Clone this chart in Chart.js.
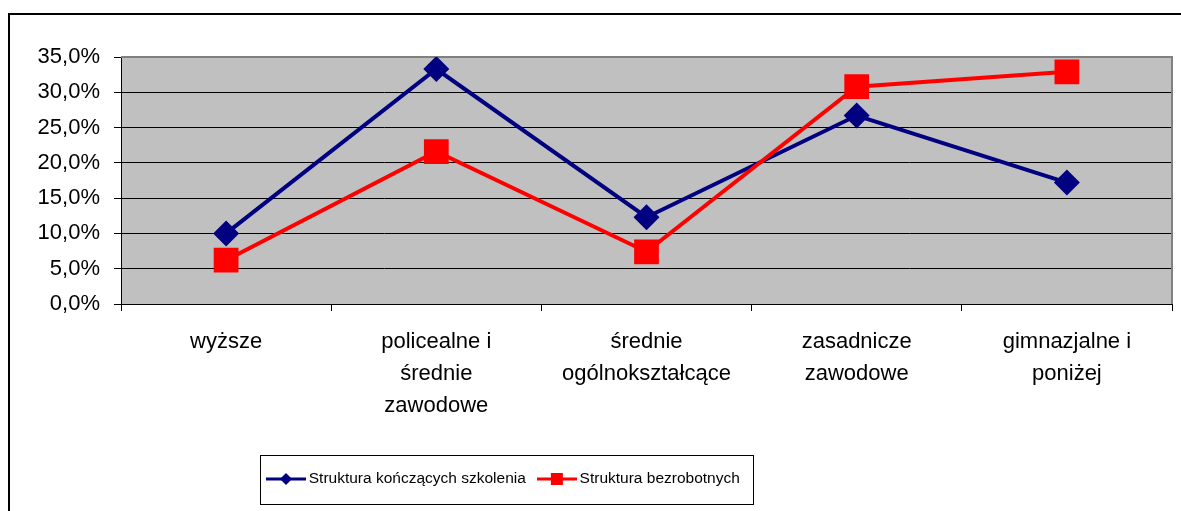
<!DOCTYPE html>
<html>
<head>
<meta charset="utf-8">
<script src="https://cdn.jsdelivr.net/npm/chart.js@4/dist/chart.umd.min.js"></script>
<style>
  html, body { margin: 0; padding: 0; background: #fff; }
  #wrap { width: 1181px; height: 511px; position: relative; }
</style>
</head>
<body>
<div id="wrap"><canvas id="eduChart"></canvas></div>
<script>
const categories = [
  ['wyższe'],
  ['policealne i', 'średnie', 'zawodowe'],
  ['średnie', 'ogólnokształcące'],
  ['zasadnicze', 'zawodowe'],
  ['gimnazjalne i', 'poniżej']
];
const seriesNames = ['Struktura kończących szkolenia', 'Struktura bezrobotnych'];
const trainees = [10.0, 33.3, 12.3, 26.7, 17.2];
const unemployed = [6.2, 21.6, 7.4, 30.8, 32.9];
const yTicks = [0, 5, 10, 15, 20, 25, 30, 35];

const NAVY = '#000080';
const RED = '#ff0000';
const PLOT_BOTTOM = 304;
const LEGEND_TEXT_Y = 479;

// small legend swatches: line with marker in the middle
function swatch(color, shape) {
  const c = document.createElement('canvas');
  c.width = 40; c.height = 14;
  const g = c.getContext('2d');
  g.strokeStyle = color; g.lineWidth = 3;
  g.beginPath(); g.moveTo(0, 7); g.lineTo(40, 7); g.stroke();
  g.fillStyle = color;
  if (shape === 'diamond') {
    g.beginPath(); g.moveTo(20, 1); g.lineTo(26, 7); g.lineTo(20, 13); g.lineTo(14, 7); g.closePath(); g.fill();
  } else {
    g.fillRect(14, 1, 12, 12);
  }
  return c;
}

const frame = {
  id: 'frame',
  beforeDraw(chart) {
    const { ctx, chartArea: a } = chart;
    ctx.save();
    ctx.fillStyle = '#c0c0c0';
    ctx.fillRect(a.left, a.top, a.right - a.left, a.bottom - a.top);
    ctx.strokeStyle = '#000';
    ctx.lineWidth = 2;
    ctx.strokeRect(9, 14, 1200, 600);
    ctx.restore();
  },
  beforeDatasetsDraw(chart) {
    const { ctx, chartArea: a } = chart;
    ctx.save();
    ctx.strokeStyle = '#808080';
    ctx.lineWidth = 2;
    ctx.beginPath();
    ctx.moveTo(a.left, a.top);
    ctx.lineTo(a.right, a.top);
    ctx.lineTo(a.right, a.bottom);
    ctx.stroke();
    ctx.restore();
  },
  afterUpdate(chart) {
    const lg = chart.legend;
    const pad = lg.options.labels.padding;
    const fs = lg.options.labels.font.size;
    lg.left = 271 - pad;
    lg.top = LEGEND_TEXT_Y - pad - fs / 2;
  },
  afterDraw(chart) {
    const lg = chart.legend;
    const { ctx } = chart;
    const pad = lg.options.labels.padding;
    const x0 = lg.left + pad - 11;
    const x1 = lg.left + lg.lineWidths[0] + 13;
    ctx.save();
    ctx.strokeStyle = '#000';
    ctx.lineWidth = 1;
    ctx.strokeRect(Math.round(x0) + 0.5, LEGEND_TEXT_Y - 24 + 0.5, Math.round(x1 - x0), 49);
    ctx.restore();
  }
};

const pct = v => v.toFixed(1).replace('.', ',') + '%';

new Chart(document.getElementById('eduChart'), {
  type: 'line',
  data: {
    labels: categories,
    datasets: [
      {
        label: seriesNames[0],
        data: trainees,
        borderColor: NAVY,
        backgroundColor: NAVY,
        borderWidth: 4,
        pointStyle: 'rectRot',
        pointRadius: 13,
        pointHoverRadius: 13,
        pointBorderWidth: 0,
        tension: 0,
        order: 2
      },
      {
        label: seriesNames[1],
        data: unemployed,
        borderColor: RED,
        backgroundColor: RED,
        borderWidth: 4,
        pointStyle: 'rect',
        pointRadius: 17.5,
        pointHoverRadius: 17.5,
        pointBorderWidth: 0,
        tension: 0,
        order: 1
      }
    ]
  },
  options: {
    responsive: true,
    maintainAspectRatio: false,
    animation: false,
    layout: { autoPadding: false, padding: { top: 57, right: 9, bottom: 0, left: 0 } },
    plugins: {
      tooltip: { enabled: false },
      legend: {
        position: 'bottom',
        align: 'start',
        labels: {
          usePointStyle: true,
          pointStyleWidth: 30,
          padding: 16,
          color: '#000',
          font: { family: '"Liberation Sans", Arial, sans-serif', size: 15.5 },
          generateLabels(chart) {
            return chart.data.datasets.map((ds, i) => ({
              text: ds.label,
              datasetIndex: i,
              pointStyle: swatch(ds.borderColor, i === 0 ? 'diamond' : 'square'),
              fillStyle: ds.borderColor,
              strokeStyle: ds.borderColor,
              lineWidth: 0,
              fontColor: '#000'
            }));
          }
        }
      }
    },
    scales: {
      x: {
        offset: true,
        grid: { offset: true, drawOnChartArea: false, tickLength: 7, tickColor: '#000' },
        border: { color: '#000', width: 1 },
        ticks: {
          color: '#000',
          padding: 15,
          maxRotation: 0,
          autoSkip: false,
          font: { family: '"Liberation Sans", Arial, sans-serif', size: 22, lineHeight: 1.45 }
        },
        afterFit(scale) {
          scale.height = scale.chart.height - PLOT_BOTTOM - scale.chart.legend.height;
        }
      },
      y: {
        min: 0,
        max: 35,
        afterBuildTicks(scale) { scale.ticks = yTicks.map(v => ({ value: v })); },
        grid: {
          color: ctx => ctx.tick && ctx.tick.value === 35 ? '#808080' : '#000',
          lineWidth: 1,
          tickLength: 7,
          tickColor: '#000'
        },
        border: { color: '#000', width: 1 },
        ticks: {
          color: '#000',
          padding: 14,
          callback: v => pct(v),
          font: { family: '"Liberation Sans", Arial, sans-serif', size: 22 }
        },
        afterFit(scale) { scale.width = 121; }
      }
    }
  },
  plugins: [frame]
});
</script>
</body>
</html>
